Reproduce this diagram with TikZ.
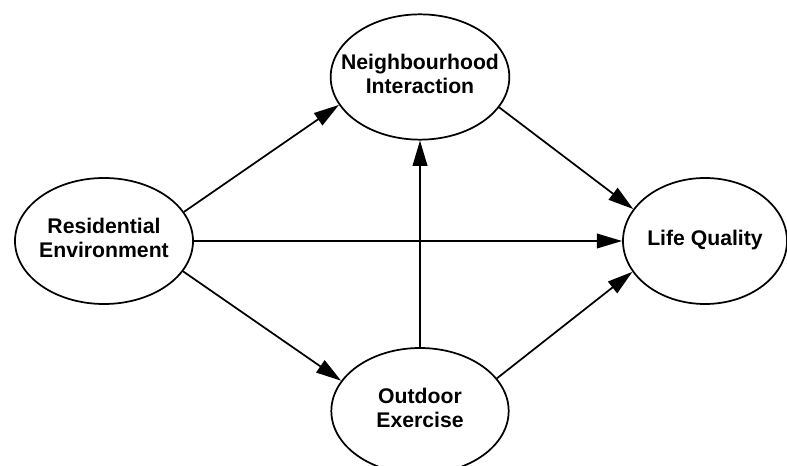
\documentclass[tikz,border=0pt]{standalone}
\usepackage{fontspec}
\setmainfont{Liberation Sans}
\usetikzlibrary{shapes.geometric,arrows.meta}

% two centred lines that do not widen the ellipse around them
\newcommand{\ovaltext}[1]{\makebox[0pt]{\begin{tabular}{@{}c@{}}#1\end{tabular}}}

\tikzset{
  construct/.style={ellipse, draw, line width=1.3pt, inner sep=0pt,
    font=\bfseries\fontsize{15.9}{18}\selectfont, fill=white},
  path/.style={line width=1.3pt, -{Triangle[length=19pt,width=11pt]}},
}

\begin{document}
\begin{tikzpicture}[x=0.75pt, y=-0.75pt]
  \useasboundingbox (0,0) rectangle (787,466);

  \node[construct, minimum width=133.5pt, minimum height=94.5pt]
    (res) at (104,241) {\ovaltext{Residential\\Environment}};
  \node[construct, minimum width=134pt, minimum height=94pt]
    (nbh) at (420,77) {\ovaltext{Neighbourhood\\Interaction}};
  \node[construct, minimum width=123pt, minimum height=94.5pt]
    (life) at (705,241) {\ovaltext{Life Quality}};
  \node[construct, minimum width=133pt, minimum height=94.5pt]
    (out) at (420,411) {\ovaltext{Outdoor\\Exercise}};

  \draw[path] (res.20) -- (nbh.199);
  \draw[path] (res.east) -- (life.west);
  \draw[path] (res.-21) -- (out.159);
  \draw[path] (out.north) -- (nbh.south);
  \draw[path] (nbh.-21) -- (life.156);
  \draw[path] (out.23) -- (life.203);
\end{tikzpicture}
\end{document}
